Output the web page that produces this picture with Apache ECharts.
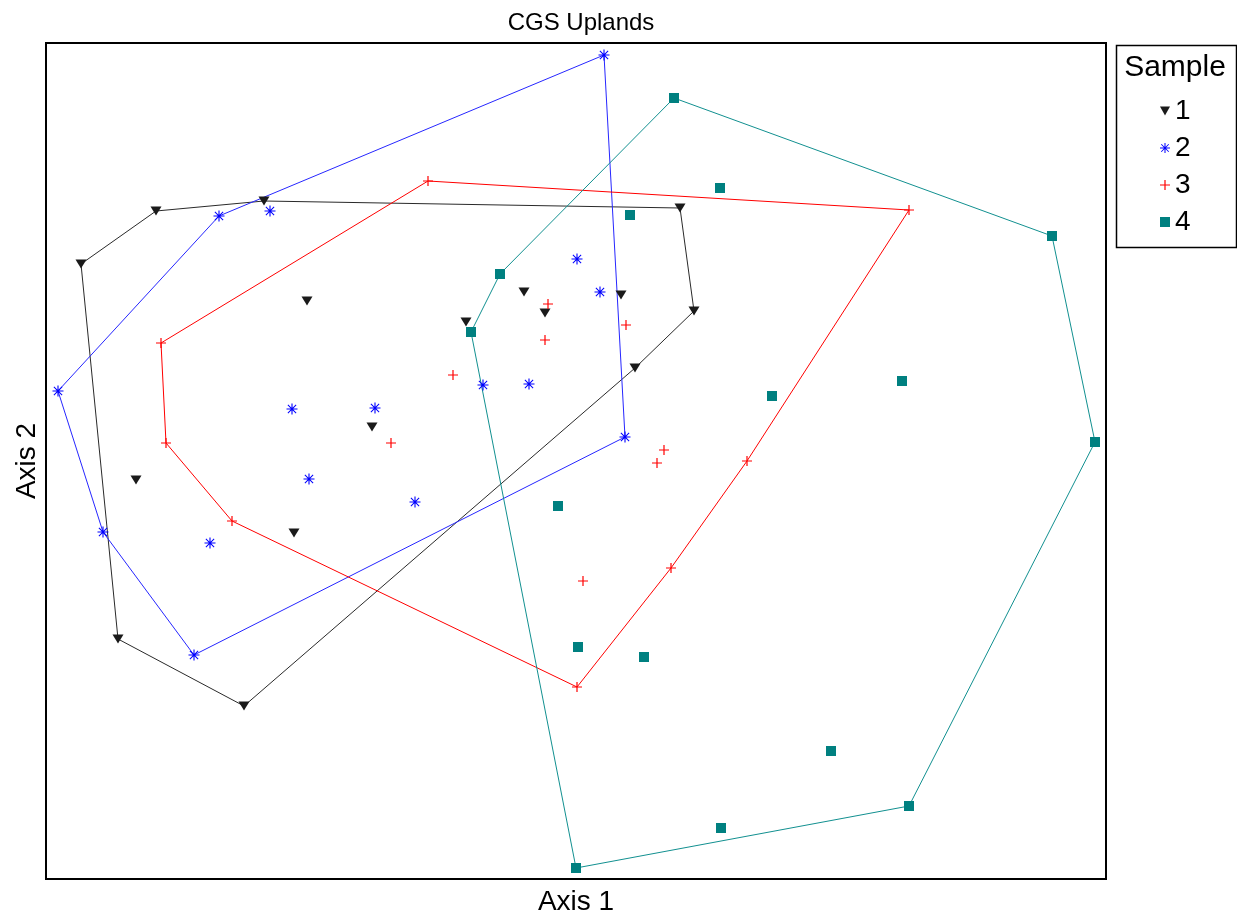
<!DOCTYPE html>
<html>
<head>
<meta charset="utf-8">
<script src="https://cdn.jsdelivr.net/npm/echarts@6/dist/echarts.min.js"></script>
<style>html,body{margin:0;padding:0;background:#fff}#c{width:1237px;height:917px}</style>
</head>
<body>
<div id="c"></div>
<script>
// Ordination scores (arbitrary units)
const sampleNames = ['1', '2', '3', '4'];
// Sample 1: hull vertices (in order) and interior points
const hull1 = [[35,615],[110,668],[218,678],[634,671],[648,568],[589,511],[198,173],[72,240]];
const inner1 = [[261,578],[90,399],[248,346],[326,452],[478,587],[499,566],[420,557],[575,584]];
// Sample 2
const hull2 = [[12,488],[173,663],[558,824],[579,442],[148,224],[57,347]];
const inner2 = [[224,668],[246,470],[329,471],[263,400],[164,336],[369,377],[531,620],[554,587],[437,494],[483,495]];
// Sample 3
const hull3 = [[382,698],[863,669],[701,418],[625,311],[531,192],[186,358],[120,436],[115,536]];
const inner3 = [[345,436],[407,504],[502,575],[499,539],[580,554],[618,429],[611,416],[537,298]];
// Sample 4
const hull4 = [[628,781],[1006,643],[1049,437],[863,73],[530,11],[425,547],[454,605]];
const inner4 = [[674,691],[584,664],[856,498],[726,483],[512,373],[532,232],[598,222],[785,128],[675,51]];

const hulls = [hull1, hull2, hull3, hull4];
const inners = [inner1, inner2, inner3, inner4];

const TRI = 'path://M0,0L10,0L5,9Z';
const AST = 'path://M5.4,0H6.6V12H5.4Z M0,5.4H12V6.6H0Z M1.1,1.9L1.9,1.1L10.9,10.1L10.1,10.9Z M10.1,1.1L10.9,1.9L1.9,10.9L1.1,10.1Z';
const PLUS = 'path://M4.4,0H5.6V10H4.4Z M0,4.4H10V5.6H0Z';
const symbols = [TRI, AST, PLUS, 'rect'];
const symbolSizes = [[11,9], 11, 10, 10];
const markerColors = ['#1a1a1a', '#0000ff', '#ff0000', '#008080'];
const lineColors = ['#2a2a2a', '#2626ff', '#ff0000', '#119090'];
const FONT = 'Liberation Sans, Arial, Helvetica, sans-serif';

const series = [];
for (let i = 0; i < 4; i++) {
  series.push({
    name: 'hull' + sampleNames[i],
    type: 'line',
    data: hulls[i].concat([hulls[i][0]]),
    symbol: 'none',
    lineStyle: { color: lineColors[i], width: 1 },
    z: 2,
    silent: true
  });
}
for (let i = 0; i < 4; i++) {
  series.push({
    name: sampleNames[i],
    type: 'scatter',
    data: hulls[i].concat(inners[i]),
    symbol: symbols[i],
    symbolSize: symbolSizes[i],
    itemStyle: { color: markerColors[i], opacity: 1 },
    z: 5
  });
}

const chart = echarts.init(document.getElementById('c'), null, { renderer: 'canvas' });
chart.setOption({
  animation: false,
  backgroundColor: '#fff',
  title: {
    text: 'CGS Uplands',
    left: 576,
    top: 6,
    textAlign: 'center',
    textStyle: { fontFamily: FONT, fontSize: 24, fontWeight: 'normal', color: '#000' }
  },
  grid: {
    left: 46, top: 43, right: 131, bottom: 38,
    outerBoundsMode: 'none',
    containLabel: false,
    show: true, borderColor: '#000', borderWidth: 2, backgroundColor: '#fff'
  },
  xAxis: {
    type: 'value', min: 0, max: 1060,
    name: 'Axis 1', nameLocation: 'middle', nameGap: 9,
    nameTextStyle: { fontFamily: FONT, fontSize: 28, color: '#000' },
    axisLine: { show: false }, axisTick: { show: false }, axisLabel: { show: false }, splitLine: { show: false }
  },
  yAxis: {
    type: 'value', min: 0, max: 836,
    name: 'Axis 2', nameLocation: 'middle', nameGap: 5,
    nameTextStyle: { fontFamily: FONT, fontSize: 28, color: '#000' },
    axisLine: { show: false }, axisTick: { show: false }, axisLabel: { show: false }, splitLine: { show: false }
  },
  legend: {
    orient: 'vertical',
    left: 1160, top: 97,
    padding: 0,
    itemWidth: 10, itemHeight: 10, itemGap: 9,
    selectedMode: false,
    textStyle: { fontFamily: FONT, fontSize: 28, color: '#000', lineHeight: 28 },
    data: sampleNames.map((n, i) => ({ name: n, icon: symbols[i] }))
  },
  graphic: [
    { type: 'rect', left: 1114, top: 43, shape: { width: 120, height: 202 },
      style: { fill: null, stroke: '#000', lineWidth: 1.5 }, z: 10 },
    { type: 'text', x: 1175, y: 68,
      style: { text: 'Sample', fontFamily: FONT, fontSize: 30, fill: '#000', align: 'center', verticalAlign: 'middle' }, z: 10 }
  ],
  series: series
});
</script>
</body>
</html>
